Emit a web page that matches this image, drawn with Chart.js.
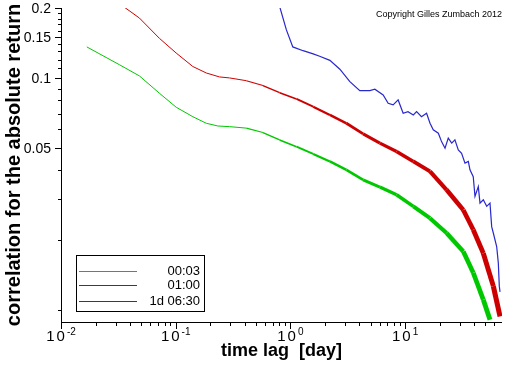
<!DOCTYPE html>
<html lang="en">
<head>
  <meta charset="UTF-8">
  <title>Correlation for the absolute return</title>
  <script src="https://cdn.jsdelivr.net/npm/chart.js"></script>
  <style>
    html, body { margin: 0; padding: 0; background: #fff; }
  </style>
</head>
<body>
  <canvas id="corrChart" width="512" height="366"></canvas>

  <script>
    // series labels (sampling interval)
    const seriesNames = ['00:03', '01:00', '1d 06:30'];

    // time lag [day] and correlation
    const lag0003 = [0.0168, 0.0323, 0.0483, 0.0722, 0.101, 0.141, 0.185, 0.233, 0.295, 0.413, 0.576, 0.806, 1.13, 1.58, 2.21, 3.08, 4.31, 6.03, 8.43, 11.8, 16.5, 23.0, 32.2, 39.3, 48.1, 55.0];
    const corr0003 = [0.136, 0.114, 0.102, 0.0859, 0.0748, 0.0681, 0.0638, 0.0621, 0.0617, 0.0608, 0.0582, 0.0541, 0.0506, 0.0471, 0.0437, 0.0402, 0.0364, 0.0339, 0.0314, 0.0280, 0.0249, 0.0215, 0.0179, 0.0145, 0.0111, 0.0091];

    const lag0100 = [0.035, 0.0483, 0.0722, 0.101, 0.141, 0.185, 0.241, 0.295, 0.413, 0.576, 0.806, 1.13, 1.58, 2.21, 3.08, 4.31, 6.03, 8.43, 11.8, 16.5, 23.0, 32.2, 39.3, 48.1, 58.8, 67.3];
    const corr0100 = [0.203, 0.181, 0.148, 0.128, 0.112, 0.105, 0.101, 0.100, 0.0973, 0.0927, 0.0864, 0.0812, 0.0752, 0.0693, 0.0638, 0.0574, 0.0524, 0.0482, 0.0437, 0.0396, 0.0330, 0.0270, 0.0222, 0.0176, 0.0127, 0.0094];

    const lag1d0630 = [0.806, 0.923, 1.05, 1.29, 1.58, 1.80, 2.21, 2.70, 3.30, 4.03, 4.93, 5.45, 6.44,
      7.12, 7.87, 8.70, 9.62, 10.6, 11.8, 12.6, 13.9, 15.4, 16.5, 17.6, 19.5, 20.8, 22.3, 23.8, 25.5, 27.2,
      29.1, 31.1, 33.3, 35.6, 36.8, 39.3, 40.7, 43.5, 45.0, 48.1, 51.5, 55.0, 56.9, 58.8, 62.9, 65.0, 66.3, 67.3];
    const corr1d0630 = [0.203, 0.161, 0.136, 0.131, 0.127, 0.124, 0.119, 0.109, 0.0964, 0.0882, 0.0882, 0.0894, 0.0845,
      0.0778, 0.0766, 0.0804, 0.0705, 0.0716, 0.0693, 0.0716, 0.0681, 0.0705, 0.0638, 0.0598, 0.0578, 0.0532, 0.0498, 0.0551, 0.0524, 0.0541,
      0.0490, 0.0474, 0.0430, 0.0437, 0.0402, 0.0376, 0.0309, 0.0341, 0.0289, 0.0299, 0.0280, 0.0289, 0.0229, 0.0215, 0.0188, 0.0160, 0.0127, 0.0120];

    // axis ticks
    const xMajorTicks = [0.01, 0.1, 1, 10];
    const xTickExponents = ['-2', '-1', '0', '1'];
    const xMinorTicks = [0.02, 0.03, 0.04, 0.05, 0.06, 0.07, 0.08, 0.09,
      0.2, 0.3, 0.4, 0.5, 0.6, 0.7, 0.8, 0.9, 2, 3, 4, 5, 6, 7, 8, 9, 20, 30, 40, 50, 60];
    const yMajorTicks = [0.2, 0.15, 0.1, 0.05];
    const yTickLabels = ['0.2', '0.15', '0.1', '0.05'];
    const yMinorTicks = [0.01, 0.02, 0.03, 0.04, 0.06, 0.07, 0.08, 0.09,
      0.11, 0.12, 0.13, 0.14, 0.16, 0.17, 0.18, 0.19];

    const colors = ['rgb(0,200,0)', 'rgb(204,0,0)', 'rgb(40,40,205)'];

    function toPoints(xs, ys) {
      return xs.map((x, i) => ({ x: x, y: ys[i] }));
    }

    // the noisy long-lag part of the data shows up as a thicker band
    function noisyWidth(ctx) {
      const x = ctx.p1.parsed.x;
      if (x < 0.5) return 1;
      return 1 + 1.9 * Math.log10(x / 0.5);
    }

    const axesPlugin = {
      id: 'axesPlugin',
      afterDraw(chart) {
        const ctx = chart.ctx;
        const area = chart.chartArea;
        const xs = chart.scales.x;
        const ys = chart.scales.y;
        ctx.save();
        ctx.strokeStyle = '#000';
        ctx.fillStyle = '#000';
        ctx.lineWidth = 1;

        // axis lines
        ctx.beginPath();
        ctx.moveTo(area.left + 0.5, area.top);
        ctx.lineTo(area.left + 0.5, area.bottom + 0.5);
        ctx.lineTo(area.right, area.bottom + 0.5);
        ctx.stroke();

        // y ticks
        ctx.beginPath();
        yMajorTicks.forEach(v => {
          const py = Math.round(ys.getPixelForValue(v)) + 0.5;
          ctx.moveTo(area.left - 6, py);
          ctx.lineTo(area.left, py);
        });
        yMinorTicks.forEach(v => {
          const py = Math.round(ys.getPixelForValue(v)) + 0.5;
          ctx.moveTo(area.left - 3, py);
          ctx.lineTo(area.left, py);
        });
        // x ticks
        xMajorTicks.forEach(v => {
          const px = Math.round(xs.getPixelForValue(v)) + 0.5;
          ctx.moveTo(px, area.bottom);
          ctx.lineTo(px, area.bottom + 7);
        });
        xMinorTicks.forEach(v => {
          const px = Math.round(xs.getPixelForValue(v)) + 0.5;
          ctx.moveTo(px, area.bottom);
          ctx.lineTo(px, area.bottom + 4);
        });
        ctx.stroke();

        // y tick labels
        ctx.font = '14px "Liberation Sans", Arial, sans-serif';
        ctx.textAlign = 'right';
        ctx.textBaseline = 'middle';
        yMajorTicks.forEach((v, i) => {
          ctx.fillText(yTickLabels[i], area.left - 10, ys.getPixelForValue(v) + 1);
        });

        // x tick labels, 10 with a raised exponent
        ctx.textAlign = 'left';
        ctx.textBaseline = 'alphabetic';
        xMajorTicks.forEach((v, i) => {
          const px = xs.getPixelForValue(v);
          ctx.font = '15px "Liberation Sans", Arial, sans-serif';
          ctx.letterSpacing = '2px';
          const wBase = ctx.measureText('10').width;
          ctx.font = '10px "Liberation Sans", Arial, sans-serif';
          ctx.letterSpacing = '0px';
          const wExp = ctx.measureText(xTickExponents[i]).width;
          const start = px - (wBase + wExp) / 2;
          ctx.font = '15px "Liberation Sans", Arial, sans-serif';
          ctx.letterSpacing = '2px';
          ctx.fillText('10', start, area.bottom + 19);
          ctx.font = '10px "Liberation Sans", Arial, sans-serif';
          ctx.letterSpacing = '0px';
          ctx.fillText(xTickExponents[i], start + wBase, area.bottom + 13);
        });

        // copyright note
        ctx.font = '9px "Liberation Sans", Arial, sans-serif';
        ctx.textAlign = 'right';
        ctx.fillText('Copyright Gilles Zumbach 2012', 502, 17);

        // legend box
        ctx.fillStyle = '#fff';
        ctx.fillRect(76, 255, 128, 56);
        ctx.strokeStyle = '#000';
        ctx.strokeRect(76.5, 255.5, 128, 56);
        const rows = [271, 285, 301];
        ctx.font = '13px "Liberation Sans", Arial, sans-serif';
        ctx.textBaseline = 'middle';
        chart.data.datasets.forEach((ds, i) => {
          ctx.strokeStyle = ds.borderColor;
          ctx.lineWidth = 1;
          ctx.beginPath();
          ctx.moveTo(79, rows[i] + 0.5);
          ctx.lineTo(137, rows[i] + 0.5);
          ctx.stroke();
          ctx.fillStyle = '#000';
          ctx.fillText(ds.label, 200, rows[i] + 0.5);
        });
        ctx.restore();
      }
    };

    const chart = new Chart(document.getElementById('corrChart'), {
      type: 'line',
      data: {
        datasets: [
          {
            label: seriesNames[0],
            data: toPoints(lag0003, corr0003),
            borderColor: colors[0],
            borderWidth: 1,
            segment: { borderWidth: noisyWidth }
          },
          {
            label: seriesNames[1],
            data: toPoints(lag0100, corr0100),
            borderColor: colors[1],
            borderWidth: 1,
            segment: { borderWidth: noisyWidth }
          },
          {
            label: seriesNames[2],
            data: toPoints(lag1d0630, corr1d0630),
            borderColor: colors[2],
            borderWidth: 1.2
          }
        ]
      },
      options: {
        responsive: false,
        animation: false,
        devicePixelRatio: 1,
        parsing: false,
        elements: {
          point: { radius: 0 },
          line: { tension: 0, fill: false }
        },
        layout: { padding: { top: 8, right: 10, left: 0, bottom: 0 } },
        plugins: {
          legend: { display: false },
          tooltip: { enabled: false }
        },
        scales: {
          x: {
            type: 'logarithmic',
            min: 0.01,
            max: 70,
            grid: { display: false },
            border: { display: false },
            ticks: { display: false },
            title: {
              display: true,
              text: 'time lag  [day]',
              color: '#000',
              font: { family: '"Liberation Sans", Arial, sans-serif', size: 18, weight: 'bold', lineHeight: 1.2 },
              padding: { top: 0, bottom: 4 }
            },
            afterFit(scale) {
              scale.height = 44;
              scale.paddingLeft = 0;
              scale.paddingRight = 0;
            }
          },
          y: {
            type: 'logarithmic',
            min: 0.0089,
            max: 0.2,
            grid: { display: false },
            border: { display: false },
            ticks: { display: false },
            title: {
              display: true,
              text: 'correlation for the absolute return',
              color: '#000',
              font: { family: '"Liberation Sans", Arial, sans-serif', size: 20, weight: 'bold', lineHeight: 1.2 },
              padding: { top: 2, bottom: 0 }
            },
            afterFit(scale) {
              scale.width = 61;
              scale.paddingTop = 0;
              scale.paddingBottom = 0;
            }
          }
        }
      },
      plugins: [axesPlugin]
    });
  </script>
</body>
</html>
